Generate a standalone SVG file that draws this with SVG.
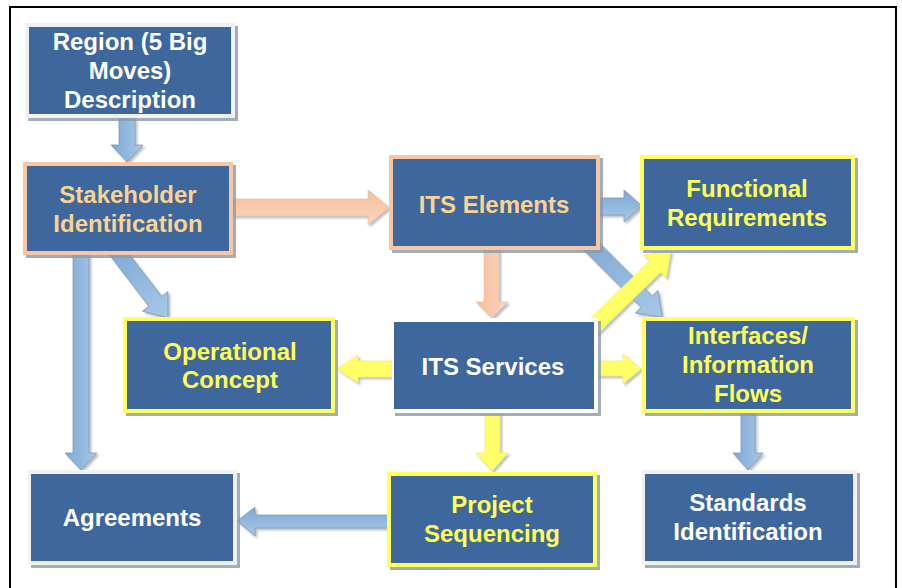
<svg xmlns="http://www.w3.org/2000/svg" width="902" height="588" viewBox="0 0 902 588">
<defs>
<linearGradient id="gBlueV" x1="0" y1="0" x2="1" y2="0"><stop offset="0" stop-color="#7DA8D5"/><stop offset="1" stop-color="#A9C8E7"/></linearGradient>
<linearGradient id="gBlueH" x1="0" y1="0" x2="0" y2="1"><stop offset="0" stop-color="#7DA8D5"/><stop offset="1" stop-color="#A9C8E7"/></linearGradient>
<linearGradient id="gPeachV" x1="0" y1="0" x2="1" y2="0"><stop offset="0" stop-color="#F4BE9C"/><stop offset="1" stop-color="#FAD6BE"/></linearGradient>
<linearGradient id="gPeachH" x1="0" y1="0" x2="0" y2="1"><stop offset="0" stop-color="#F4BE9C"/><stop offset="1" stop-color="#FAD6BE"/></linearGradient>
<filter id="sh" x="-20%" y="-20%" width="140%" height="140%"><feDropShadow dx="2" dy="2" stdDeviation="1" flood-color="#6F7F90" flood-opacity="0.5"/></filter>
<style>
.blue{fill:url(#gBlueV);stroke:#8799AC;stroke-width:0.8}
.blueh{fill:url(#gBlueH);stroke:#8799AC;stroke-width:0.8}
.peach{fill:url(#gPeachV);stroke:#E8B898;stroke-width:0.6}
.peachh{fill:url(#gPeachH);stroke:#E8B898;stroke-width:0.6}
.yel{fill:#FFFF66;stroke:#EDED50;stroke-width:0.6}
.shadow{fill:#8B99AA;opacity:0.8}
.inner{fill:#3D679D}
.bLight{fill:#F1F1F1}
.bPeach{fill:#F7C6A5}
.bYel{fill:#FFFF5E}
.bWhite{fill:#FFFFFF}
text{font-family:"Liberation Sans",Arial,sans-serif;font-weight:bold;font-size:24px;text-anchor:middle}
.tw{fill:#FFFFFF}
.tp{fill:#FCD38E}
.ty{fill:#FFFF55}
</style>
</defs>
<rect x="0" y="0" width="902" height="588" fill="#FFFFFF"/>
<rect x="10" y="7" width="886" height="600" fill="none" stroke="#000000" stroke-width="2"/>

<g id="connectors" filter="url(#sh)">
<polygon class="blue" points="119,116 135,116 135,145 143,145 127,162 111,145 119,145"/>
<polygon class="peachh" points="233,199 368,199 368,190 389,207.5 368,225 368,216 233,216"/>
<polygon class="blueh" points="598,198 624,198 624,190 642,206 624,222 624,215 598,215"/>
<polygon class="peach" points="484,248 499,248 499,302 508,302 492,318 476,302 484,302"/>
<polygon class="blue" transform="translate(583,238) rotate(45)" points="0,-8 90,-8 90,-16 112,0 90,16 90,8 0,8"/>
<polygon class="yel" transform="translate(585,335) rotate(-44.3)" points="0,-8 98,-8 98,-16 120,0 98,16 98,8 0,8"/>
<polygon class="yel" points="392,361 358,361 358,355 337,369 358,383 358,377 392,377"/>
<polygon class="yel" points="596,361 623,361 623,354 641,369 623,384 623,376 596,376"/>
<polygon class="yel" points="485,412 500,412 500,453 508,453 492,471 476,453 485,453"/>
<polygon class="blue" points="741,412 755,412 755,453 763,453 748,470 733,453 741,453"/>
<polygon class="blueh" points="389,515 255,515 255,507 237,521 255,536 255,528 389,528"/>
<polygon class="blue" points="73,253 89,253 89,453 97,453 81,470 65,453 73,453"/>
<polygon class="blue" transform="translate(112,245) rotate(52.5)" points="0,-8 71,-8 71,-16 92,0 71,16 71,8 0,8"/>
</g>

<g id="region">
<rect class="shadow" x="28" y="26" width="210" height="95"/>
<rect class="bLight" x="25" y="23" width="210" height="95"/>
<rect class="inner" x="29" y="27" width="202" height="87"/>
<text class="tw" x="130" y="50">Region (5 Big</text>
<text class="tw" x="130" y="79">Moves)</text>
<text class="tw" x="130" y="108">Description</text>
</g>

<g id="stakeholder">
<rect class="shadow" x="26" y="165" width="210" height="93"/>
<rect class="bPeach" x="23" y="162" width="210" height="93"/>
<rect class="inner" x="27" y="166" width="202" height="85"/>
<text class="tp" x="128" y="203">Stakeholder</text>
<text class="tp" x="128" y="232">Identification</text>
</g>

<g id="its-elements">
<rect class="shadow" x="392" y="158" width="211" height="95"/>
<rect class="bPeach" x="389" y="155" width="211" height="95"/>
<rect class="inner" x="393" y="159" width="203" height="87"/>
<text class="tp" x="494" y="213">ITS Elements</text>
</g>

<g id="functional">
<rect class="shadow" x="643" y="158" width="215" height="95"/>
<rect class="bYel" x="640" y="155" width="215" height="95"/>
<rect class="inner" x="644" y="159" width="207" height="87"/>
<text class="ty" x="747" y="197">Functional</text>
<text class="ty" x="747" y="226">Requirements</text>
</g>

<g id="interfaces">
<rect class="shadow" x="645" y="320" width="213" height="96"/>
<rect class="bYel" x="642" y="317" width="213" height="96"/>
<rect class="inner" x="646" y="321" width="205" height="88"/>
<text class="ty" x="748" y="344">Interfaces/</text>
<text class="ty" x="748" y="373">Information</text>
<text class="ty" x="748" y="402">Flows</text>
</g>

<g id="its-services">
<rect class="shadow" x="395" y="321" width="206" height="95"/>
<rect class="bWhite" x="392" y="318" width="206" height="95"/>
<rect class="inner" x="394" y="322" width="200" height="87"/>
<text class="tw" x="493" y="375">ITS Services</text>
</g>

<g id="operational">
<rect class="shadow" x="126" y="320" width="212" height="96"/>
<rect class="bYel" x="123" y="317" width="212" height="96"/>
<rect class="inner" x="127" y="321" width="204" height="88"/>
<text class="ty" x="230" y="360">Operational</text>
<text class="ty" x="230" y="388">Concept</text>
</g>

<g id="agreements">
<rect class="shadow" x="31" y="473" width="209" height="95"/>
<rect class="bLight" x="28" y="470" width="209" height="95"/>
<rect class="inner" x="31" y="474" width="202" height="87"/>
<text class="tw" x="132" y="526">Agreements</text>
</g>

<g id="project">
<rect class="shadow" x="390" y="475" width="210" height="95"/>
<rect class="bYel" x="387" y="472" width="210" height="95"/>
<rect class="inner" x="391" y="476" width="202" height="87"/>
<text class="ty" x="492" y="513">Project</text>
<text class="ty" x="492" y="542">Sequencing</text>
</g>

<g id="standards">
<rect class="shadow" x="645" y="473" width="215" height="95"/>
<rect class="bLight" x="642" y="470" width="215" height="95"/>
<rect class="inner" x="645" y="474" width="208" height="87"/>
<text class="tw" x="748" y="511">Standards</text>
<text class="tw" x="748" y="540">Identification</text>
</g>
</svg>
